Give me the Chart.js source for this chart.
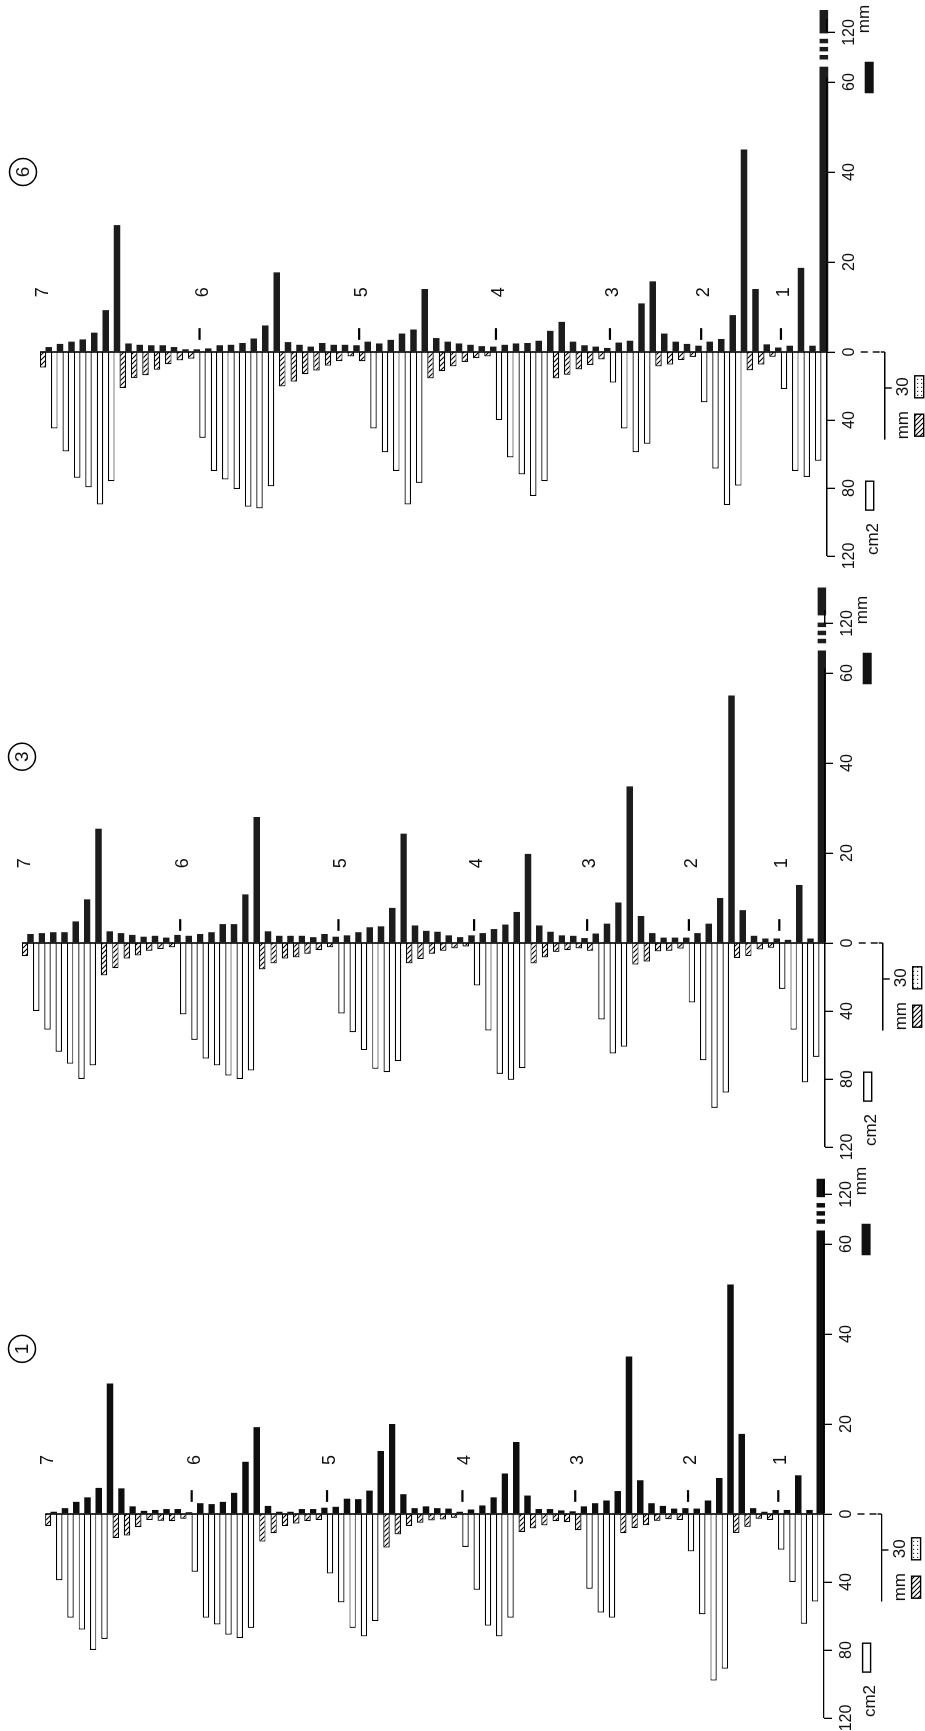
<!DOCTYPE html>
<html>
<head>
<meta charset="utf-8">
<title>Node profiles of shoots 1-7, plants 1, 3 and 6</title>
<script src="https://cdn.jsdelivr.net/npm/chart.js@4.4.1/dist/chart.umd.min.js"></script>
<style>
  html, body { margin:0; padding:0; background:#fff; width:925px; height:1731px; overflow:hidden; }
  #frame { position:absolute; left:0; top:0; width:1731px; height:925px;
           transform-origin:0 0; transform:translate(0px,1731px) rotate(-90deg); }
  #frame canvas { position:absolute; top:0; }
</style>
</head>
<body>
<div id="frame">
  <canvas id="c1" width="590" height="925" style="left:0px;width:590px;height:925px"></canvas>
  <canvas id="c3" width="600" height="925" style="left:550px;width:600px;height:925px"></canvas>
  <canvas id="c6" width="601" height="925" style="left:1130px;width:601px;height:925px"></canvas>
</div>
<script>
// ---------- tick labels ----------
const groupNames   = ['7', '6', '5', '4', '3', '2', '1'];
const mmTickValues = [0, 20, 40, 60, 71];            // 71 = position of "120" after the axis break
const mmTickLabels = ['0', '20', '40', '60', '120'];
const cmTickValues = [-40, -80, -120];
const cmTickLabels = ['40', '80', '120'];

// ---------- panel 1 ----------
// W = white bar (leaf area, cm2), H = hatched bar (mm, 30 scale)
const p1Kinds = ['HWWWWWHHHHHHH', 'WWWWWWHHHHHH', 'WWWWWHHHHHHH', 'WWWWWHHHHH', 'HWWWHHHHHH', 'WWWWHHHH', 'WWWW'];
const p1Down = [
  10, 39, 61, 68, 80, 73.5, 20, 18, 11, 5, 5.7, 6, 4,
  34, 61, 65, 71, 73, 67, 23, 16, 10, 8, 6, 5,
  35, 52, 67, 72, 63, 28, 17, 10, 7.3, 5.4, 4.6, 3.2,
  19.4, 44.6, 65.7, 72, 61, 15, 12, 9.5, 6, 6.8,
  13.5, 44, 58, 61, 16, 11.7, 9.4, 5.7, 4.4, 5,
  22, 59, 98, 91, 15.8, 10.7, 4, 5,
  21, 40, 64.6, 51.5];
const p1Up = [
  0.5, 1.3, 2.7, 3.7, 5.8, 29, 5.7, 1.7, 0.7, 0.9, 1.1, 1.1, 0.4,
  2.4, 2.2, 2.7, 4.7, 11.6, 19.3, 1.8, 0.5, 0.5, 1.1, 1.1, 1.4,
  1.6, 3.4, 3.3, 5.2, 14, 20, 4.4, 1.3, 1.7, 1.3, 1.2, 0.5,
  1.0, 1.9, 3.7, 9.0, 16, 4.1, 1.1, 1.1, 0.8, 0.6,
  1.7, 2.4, 3.0, 5.1, 35, 7.5, 2.4, 1.8, 1.2, 1.3,
  1.2, 3.0, 8, 51, 17.8, 1.3, 0.5, 0.9,
  0.9, 8.6, 0.9, null];
const p1Stem = [[0, 63], [64.5, 65.5], [66.3, 67.3], [68.1, 69.1], [70.4, 74.5]];

// ---------- panel 3 ----------
const p3Kinds = ['HWWWWWWHHHHHHH', 'WWWWWWWHHHHHHH', 'WWWWWWHHHHHH', 'WWWWWHHHHH', 'HWWWHHHHH', 'WWWWHHHH', 'WWWW'];
const p3Down = [
  11, 40, 51, 64, 71, 80, 72, 27, 21, 13, 10.4, 6.5, 5, 3.6,
  42, 57, 68, 72, 78, 80, 75, 22, 17, 13, 12, 9, 6, 3.6,
  41.5, 52.5, 63, 74, 76, 69.5, 17, 13.4, 9, 6.5, 4.5, 3,
  25, 51.5, 77, 80.5, 73.6, 17, 12, 7.4, 6, 4.5,
  6.5, 45, 65, 61, 18, 15.5, 7, 6.5, 4.7,
  35, 69, 97, 88, 12.6, 10.8, 5.4, 4,
  27, 51, 82, 67];
const p3Up = [
  2.0, 2.2, 2.4, 2.4, 4.8, 9.7, 25.4, 2.6, 2.2, 1.8, 1.4, 1.6, 1.2, 1.8,
  1.6, 2.0, 2.4, 4.2, 4.2, 10.8, 28, 2.6, 1.6, 1.6, 1.6, 1.3, 2.0, 1.4,
  1.7, 2.4, 3.5, 3.7, 7.8, 24.3, 3.9, 2.7, 2.5, 1.7, 1.3, 1.7,
  2.2, 3.1, 4.1, 6.9, 19.8, 3.9, 2.5, 1.7, 1.6, 1.1,
  2.1, 4.3, 9, 34.8, 6, 2.2, 1.2, 1.2, 1.2,
  2.2, 4.3, 10, 55, 7.3, 1.6, 1.0, 1.0,
  0.7, 12.9, 1.0, null];
const p3Stem = [[0, 65], [66.6, 67.6], [68.4, 69.4], [70.2, 71.2], [72.8, 79]];

// ---------- panel 6 ----------
const p6Kinds = ['HWWWWWWHHHHHHH', 'WWWWWWWHHHHHHH', 'HWWWWWHHHHHH', 'WWWWWHHHHH', 'WWWWHHHH', 'WWWWHHH', 'WWWW'];
const p6Down = [
  13, 45, 58.5, 74, 79.6, 89.7, 76, 30, 21.6, 19.4, 14.8, 10.2, 7, 5.6,
  50.5, 70, 75, 80.6, 91, 92, 79, 28.7, 24.7, 18.5, 15.5, 11.4, 7.7, 3.7,
  7.7, 45, 59, 70, 89.7, 77, 22, 16, 12, 8.3, 5.2, 3.7,
  40, 62, 72, 84.7, 76, 22, 19, 14.5, 10.8, 6.2,
  18, 45, 59, 54, 12, 10.5, 6.7, 4.1,
  29.6, 68.6, 90, 78.6, 15.3, 10.5, 4,
  21.8, 70, 73.5, 64];
const p6Up = [
  1.1, 1.8, 2.3, 2.8, 4.3, 9.3, 28.2, 1.9, 1.6, 1.5, 1.5, 1.1, 0.6, 0.6,
  0.8, 1.5, 1.6, 2.0, 3.0, 5.9, 17.7, 2.2, 1.6, 1.2, 2.0, 1.6, 1.6, 1.5,
  2.3, 1.9, 2.7, 4.1, 5, 14, 3.1, 2.3, 1.9, 1.6, 1.3, 1.2,
  1.6, 1.9, 2.0, 2.5, 4.7, 6.7, 2.3, 1.5, 1.2, 0.9,
  2.1, 2.5, 10.8, 15.7, 4.1, 2.3, 1.8, 1.4,
  2.3, 2.9, 8.2, 45, 14, 1.7, 1.0,
  1.4, 18.7, 1.4, null];
const p6Stem = [[0, 63.4], [65, 66], [66.8, 67.8], [68.6, 69.6], [70.8, 76]];

// ---------- drawing helpers ----------
const FONT = '"Liberation Sans", Arial, Helvetica, sans-serif';
const PX_MM = 4.5, PX_CM = 1.7, PX_H = 1.2;

function makeHatch() {
  const s = 5, c = document.createElement('canvas');
  c.width = s; c.height = s;
  const g = c.getContext('2d');
  g.fillStyle = '#fff'; g.fillRect(0, 0, s, s);
  g.strokeStyle = '#000'; g.lineWidth = 1.1;
  g.beginPath();
  g.moveTo(-1, -1); g.lineTo(s + 1, s + 1);
  g.moveTo(-1, s - 1); g.lineTo(1, s + 1);
  g.moveTo(s - 1, -1); g.lineTo(s + 1, 1);
  g.stroke();
  return c;
}
function makeDots() {
  const c = document.createElement('canvas');
  c.width = 4; c.height = 4;
  const g = c.getContext('2d');
  g.fillStyle = '#fff'; g.fillRect(0, 0, 4, 4);
  g.fillStyle = '#333'; g.fillRect(1, 1, 1.2, 1.2);
  return c;
}

const decor = {
  id: 'decor',
  afterDatasetsDraw(chart) {
    const {ctx, chartArea: ca} = chart;
    const x0 = chart.scales.x.getPixelForValue(0);
    ctx.save();
    ctx.strokeStyle = '#000'; ctx.lineWidth = 1.6;
    ctx.beginPath(); ctx.moveTo(x0, ca.top); ctx.lineTo(x0, ca.bottom); ctx.stroke();
    ctx.restore();
  },
  afterDraw(chart) {
    const o = chart.options.plugins.decor;
    const {ctx, chartArea: ca} = chart;
    const xm = chart.scales.x, xc = chart.scales.xc, xh = chart.scales.xh, ys = chart.scales.y;
    const P = (s, v) => s.getPixelForValue(v);
    const slot = P(ys, 1) - P(ys, 0);
    const av = ca.bottom;
    const seg = (a, b, c, d) => { ctx.beginPath(); ctx.moveTo(a, b); ctx.lineTo(c, d); ctx.stroke(); };
    ctx.save();
    ctx.strokeStyle = '#000'; ctx.fillStyle = '#111'; ctx.lineWidth = 1.4;
    ctx.textAlign = 'center'; ctx.textBaseline = 'middle';

    // main value axis: cm2 side, zero, mm side up to the break, short piece at 120
    seg(P(xc, -120), av, P(xm, 61), av);
    seg(P(xm, 71), av, P(xm, 74), av);

    // dashes linking zero to the small mm axis
    ctx.setLineDash([7, 5]);
    seg(P(xm, 0), av + 34, P(xm, 0), av + 54);
    ctx.setLineDash([]);

    // small axis for hatched bars (mm, 30 scale)
    const mv = av + 58;
    seg(P(xh, 0), av + 54, P(xh, 0), mv);
    seg(P(xh, 0), mv, P(xh, -73), mv);
    seg(P(xh, -30), mv, P(xh, -30), mv + 7);
    ctx.font = '17px ' + FONT;
    ctx.fillText('30', P(xh, -29), av + 77);
    ctx.fillText('mm', P(xh, -61), av + 77);
    // its legend boxes
    const hb = P(xh, -61), db = P(xh, -29);
    ctx.fillStyle = ctx.createPattern(o.hatch, 'repeat');
    ctx.fillRect(hb - 11, av + 88, 22, 9);
    ctx.strokeRect(hb - 11, av + 88, 22, 9);
    ctx.fillStyle = ctx.createPattern(o.dots, 'repeat');
    ctx.fillRect(db - 11, av + 88, 22, 9);
    ctx.strokeRect(db - 11, av + 88, 22, 9);
    ctx.fillStyle = '#111';

    // unit labels and legend boxes of the main axis
    ctx.fillText('cm2', P(xc, -110), av + 47);
    ctx.fillStyle = '#fff';
    ctx.fillRect(P(xc, -93), av + 39, P(xc, -76) - P(xc, -93), 8);
    ctx.strokeRect(P(xc, -93), av + 39, P(xc, -76) - P(xc, -93), 8);
    ctx.fillStyle = '#111';
    ctx.fillRect(P(xm, 57.5), av + 38, P(xm, 64.5) - P(xm, 57.5), 9);
    ctx.font = '17px ' + FONT;
    ctx.fillText('mm', P(xm, o.mmLabel), av + 38);

    // shoot numbers and start markers
    let s = 0;
    o.sizes.forEach((n, gi) => {
      const v = P(ys, s) - slot / 4;
      ctx.font = '18px ' + FONT;
      ctx.fillText(groupNames[gi], P(xm, o.labelMM), v);
      if (gi > 0) {
        ctx.lineWidth = 2.2;
        seg(P(xm, 2.7), v - 3, P(xm, 5.3), v - 3);
        ctx.lineWidth = 1.4;
      }
      s += n;
    });

    // circled plant number
    const cx = P(xm, o.circleMM), cy = o.circleV;
    ctx.lineWidth = 1.5;
    ctx.beginPath(); ctx.arc(cx, cy, 13.5, 0, Math.PI * 2); ctx.stroke();
    ctx.font = '19px ' + FONT;
    ctx.fillText(o.panel, cx, cy + 1);
    ctx.restore();
  }
};

function buildPanel(id, d) {
  const kinds = d.kinds.join('').split('');
  const n = kinds.length;
  const labels = kinds.map((k, i) => 'node ' + (i + 1));
  const leaf = d.down.map((v, i) => kinds[i] === 'W' ? -v : null);
  const hatch = d.down.map((v, i) => kinds[i] === 'H' ? -v : null);
  const canvas = document.getElementById(id);
  const W = canvas.width, H = canvas.height;
  const hatchCanvas = makeHatch(), dotsCanvas = makeDots();
  const pat = canvas.getContext('2d').createPattern(hatchCanvas, 'repeat');
  const common = { barPercentage: 1.14, categoryPercentage: 1.0 };
  const datasets = [
    Object.assign({ label: 'leaf area (cm2)', data: leaf, xAxisID: 'xc', stack: 'down',
      backgroundColor: '#fff', borderColor: '#000', borderWidth: 1.2, borderSkipped: 'start' }, common),
    Object.assign({ label: 'length (mm, 30 scale)', data: hatch, xAxisID: 'xh', stack: 'down',
      backgroundColor: pat, borderColor: '#000', borderWidth: 1.2, borderSkipped: 'start' }, common),
    Object.assign({ label: 'internode (mm)', data: d.up, xAxisID: 'x', stack: 'up',
      backgroundColor: d.upColor, borderWidth: 0 }, common)
  ];
  d.stem.forEach((piece, k) => {
    const arr = new Array(n).fill(null);
    arr[n - 1] = piece;
    datasets.push({ label: 'main axis ' + k, data: arr, xAxisID: 'x', stack: 'up',
      backgroundColor: d.upColor, borderWidth: 0, clip: false,
      barPercentage: 1.5, categoryPercentage: 1.0 });
  });
  const tickFont = { family: FONT, size: 16 };
  const valueAxis = (unitPx, vals, labs) => ({
    type: 'linear', axis: 'x', stacked: false, bounds: 'data',
    min: -d.zero / unitPx, max: (W - d.zero) / unitPx,
    position: { y: n - 0.5 },
    border: { display: false },
    grid: { display: true, drawOnChartArea: false, drawTicks: true, tickLength: 8, color: '#000', lineWidth: 1.3 },
    afterBuildTicks: (sc) => { sc.ticks = vals.map(v => ({ value: v })); },
    ticks: { autoSkip: false, maxRotation: 0, padding: 5, color: '#111', font: tickFont,
             callback: (v, i) => labs[i] }
  });
  return new Chart(canvas, {
    type: 'bar',
    data: { labels, datasets },
    options: {
      responsive: false, animation: false, indexAxis: 'y',
      layout: { padding: { left: 0, right: 0, top: d.top, bottom: H - d.bottom } },
      plugins: {
        legend: { display: false }, tooltip: { enabled: false },
        decor: { sizes: d.kinds.map(k => k.length), labelMM: d.labelMM, circleMM: d.circleMM,
                 circleV: d.circleV, panel: d.panel, mmLabel: d.mmLabel, hatch: hatchCanvas, dots: dotsCanvas }
      },
      scales: {
        y: { type: 'category', display: false, offset: true, stacked: true, grid: { display: false } },
        x: valueAxis(PX_MM, mmTickValues, mmTickLabels),
        xc: valueAxis(PX_CM, cmTickValues, cmTickLabels),
        xh: Object.assign(valueAxis(PX_H, [], []), { display: false })
      }
    },
    plugins: [decor]
  });
}

buildPanel('c1', { kinds: p1Kinds, down: p1Down, up: p1Up, stem: p1Stem, upColor: '#0e0e0e',
  zero: 217, top: 45.2, bottom: 823.6, labelMM: 12, circleMM: 36.7, circleV: 22, panel: '1', mmLabel: 74 });
buildPanel('c3', { kinds: p3Kinds, down: p3Down, up: p3Up, stem: p3Stem, upColor: '#1c1c1c',
  zero: 238, top: 22.1, bottom: 824.7, labelMM: 17.7, circleMM: 41.4, circleV: 22, panel: '3', mmLabel: 74 });
buildPanel('c6', { kinds: p6Kinds, down: p6Down, up: p6Up, stem: p6Stem, upColor: '#1c1c1c',
  zero: 249, top: 40.1, bottom: 826.7, labelMM: 13.3, circleMM: 40, circleV: 23, panel: '6', mmLabel: 74 });
</script>
</body>
</html>
